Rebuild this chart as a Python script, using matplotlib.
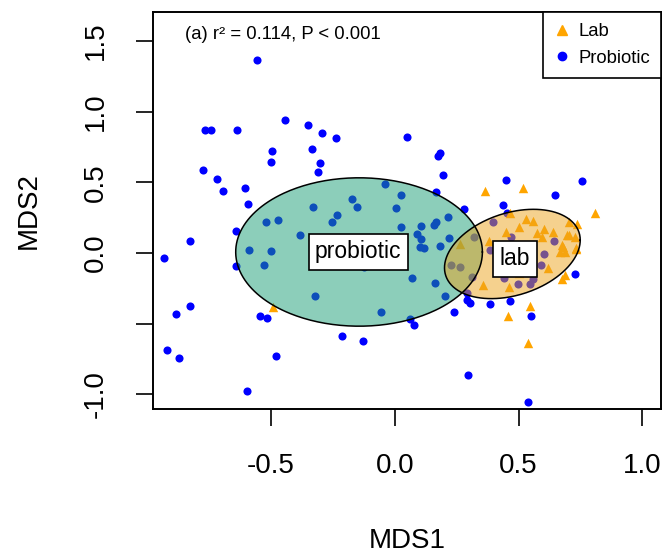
import numpy as np
import matplotlib.pyplot as plt
from matplotlib.lines import Line2D

plt.rcParams['font.family'] = ['Liberation Sans', 'DejaVu Sans']

# probiotic samples (blue circles)
pro_x = [-0.558, -0.441, -0.764, -0.743, -0.638, -0.494, -0.501, -0.774, -0.719, -0.694,
         -0.606, -0.351, -0.293, -0.238, -0.335, -0.300, -0.310, 0.050, 0.184, 0.176,
         0.195, 0.168, -0.039, 0.026, -0.172, 0.448, 0.649, 0.757, -0.593, -0.521,
         -0.470, -0.383, -0.640, -0.825, -0.930, -0.590, -0.498, -0.640, -0.529, -0.828,
         -0.884, -0.543, -0.517, -0.919, -0.871, -0.480, -0.598, -0.331, -0.154, -0.232,
         -0.252, 0.007, 0.026, 0.106, 0.168, 0.157, 0.215, 0.090, 0.106, 0.104,
         0.117, 0.184, 0.221, 0.070, 0.164, 0.204, -0.323, -0.055, 0.063, 0.079,
         -0.212, -0.127, -0.126, 0.437, 0.453, 0.397, 0.281, 0.241, 0.302, 0.292,
         0.386, 0.467, 0.550, 0.296, 0.540, 0.729, 0.468, 0.645, 0.386, 0.604,
         0.590, 0.560, 0.547, 0.498, 0.440, 0.227, 0.265, 0.312, 0.319, 0.292,
         -0.995]
pro_y = [1.367, 0.941, 0.867, 0.872, 0.872, 0.723, 0.645, 0.584, 0.523, 0.440,
         0.459, 0.906, 0.849, 0.811, 0.738, 0.636, 0.570, 0.821, 0.711, 0.683,
         0.551, 0.428, 0.491, 0.409, 0.385, 0.518, 0.413, 0.506, 0.345, 0.222,
         0.232, 0.128, 0.156, 0.083, -0.033, 0.019, 0.014, -0.090, -0.085, -0.374,
         -0.430, -0.447, -0.463, -0.690, -0.745, -0.730, -0.979, 0.324, 0.328, 0.270,
         0.218, 0.317, 0.187, 0.194, 0.218, 0.199, 0.257, 0.133, 0.099, 0.045,
         0.033, 0.052, 0.104, -0.175, -0.215, -0.303, -0.303, -0.416, -0.468, -0.511,
         -0.587, -0.624, -0.097, 0.340, 0.282, 0.222, 0.312, -0.416, -0.357, -0.333,
         -0.364, -0.338, -0.445, -0.865, -1.055, -0.149, 0.113, 0.087, 0.021, -0.007,
         -0.085, -0.187, -0.222, -0.220, -0.179, -0.085, -0.097, -0.168, 0.116, -0.286,
         -0.227]

# lab samples (orange triangles)
lab_x = [0.366, 0.519, 0.807, -0.490, 0.467, 0.560, 0.601, 0.702, 0.735, 0.729,
         0.681, 0.688, 0.733, 0.574, 0.453, 0.265, 0.594, 0.641, 0.695, 0.675,
         0.668, 0.731, 0.688, 0.675, 0.547, 0.379, 0.356, 0.460, 0.456, 0.450,
         0.537, 0.500, 0.500, 0.519, 0.619, 0.529, 0.702]
lab_y = [0.436, 0.461, 0.284, -0.381, 0.282, 0.229, 0.168, 0.222, 0.206, 0.116,
         0.045, 0.009, 0.033, 0.140, 0.050, 0.064, 0.116, 0.151, 0.128, 0.057,
         0.009, 0.028, -0.156, -0.184, -0.374, 0.085, -0.227, -0.239, -0.448, 0.151,
         -0.640, -0.144, 0.187, -0.035, -0.106, 0.243, 0.128]

xticks = [-0.5, 0.0, 0.5, 1.0]
xtick_labels = ['-0.5', '0.0', '0.5', '1.0']
yticks = [-1.0, -0.5, 0.0, 0.5, 1.0, 1.5]
ytick_labels = ['-1.0', '', '0.0', '0.5', '1.0', '1.5']

# group ellipses: centre, spread along MDS1 / MDS2, correlation
pro_ell = dict(cx=-0.144, cy=0.007, sx=0.498, sy=0.525, r=0.0)
lab_ell = dict(cx=0.475, cy=-0.007, sx=0.274, sy=0.316, r=0.31)

fig = plt.figure(figsize=(6.69, 5.57), dpi=100)
ax = fig.add_axes([0.2283, 0.2652, 0.7597, 0.7127])

ax.scatter(pro_x, pro_y, s=34, marker='o', color='blue', linewidths=0, zorder=2)
ax.scatter(lab_x, lab_y, s=46, marker='^', color='orange', linewidths=0, zorder=2)


def draw_ellipse(e, color):
    t = np.linspace(0, 2 * np.pi, 300)
    x = e['cx'] + e['sx'] * np.cos(t)
    y = e['cy'] + e['sy'] * (e['r'] * np.cos(t) + np.sqrt(1 - e['r'] ** 2) * np.sin(t))
    ax.fill(x, y, facecolor=color, alpha=0.5, edgecolor='none', zorder=3)
    ax.plot(x, y, color='black', lw=1.1, zorder=4)


draw_ellipse(pro_ell, '#1b9e77')
draw_ellipse(lab_ell, '#eda41f')

box = dict(facecolor='white', edgecolor='black', linewidth=1.2, boxstyle='square,pad=0.28')
ax.text(-0.147, 0.009, 'probiotic', fontsize=16.5, ha='center', va='center', bbox=box, zorder=5)
ax.text(0.486, -0.04, 'lab', fontsize=16.5, ha='center', va='center', bbox=box, zorder=5)

ax.text(0.0635, 0.943, '(a) r² = 0.114, P < 0.001', transform=ax.transAxes,
        fontsize=13.3, ha='left', va='center')

handles = [Line2D([], [], marker='^', color='orange', linestyle='none', markersize=7),
           Line2D([], [], marker='o', color='blue', linestyle='none', markersize=6)]
leg = ax.legend(handles, ['Lab', 'Probiotic'], loc='upper right', fontsize=13.3,
                fancybox=False, edgecolor='black', framealpha=1, borderaxespad=0,
                handletextpad=0.5, handlelength=0.8, borderpad=0.6, labelspacing=0.5)
leg.get_frame().set_linewidth(1.2)

ax.set_xlim(-0.977, 1.075)
ax.set_ylim(-1.106, 1.703)
ax.set_xticks(xticks)
ax.set_xticklabels(xtick_labels)
ax.set_yticks(yticks)
ax.set_yticklabels(ytick_labels, rotation=90, va='center')
ax.tick_params(axis='both', labelsize=20, length=12.5, width=1.2, pad=19)
for sp in ax.spines.values():
    sp.set_linewidth(1.4)

ax.set_xlabel('MDS1', fontsize=20, labelpad=35)
ax.set_ylabel('MDS2', fontsize=20, labelpad=30)

fig.savefig('out.png', dpi=100)
